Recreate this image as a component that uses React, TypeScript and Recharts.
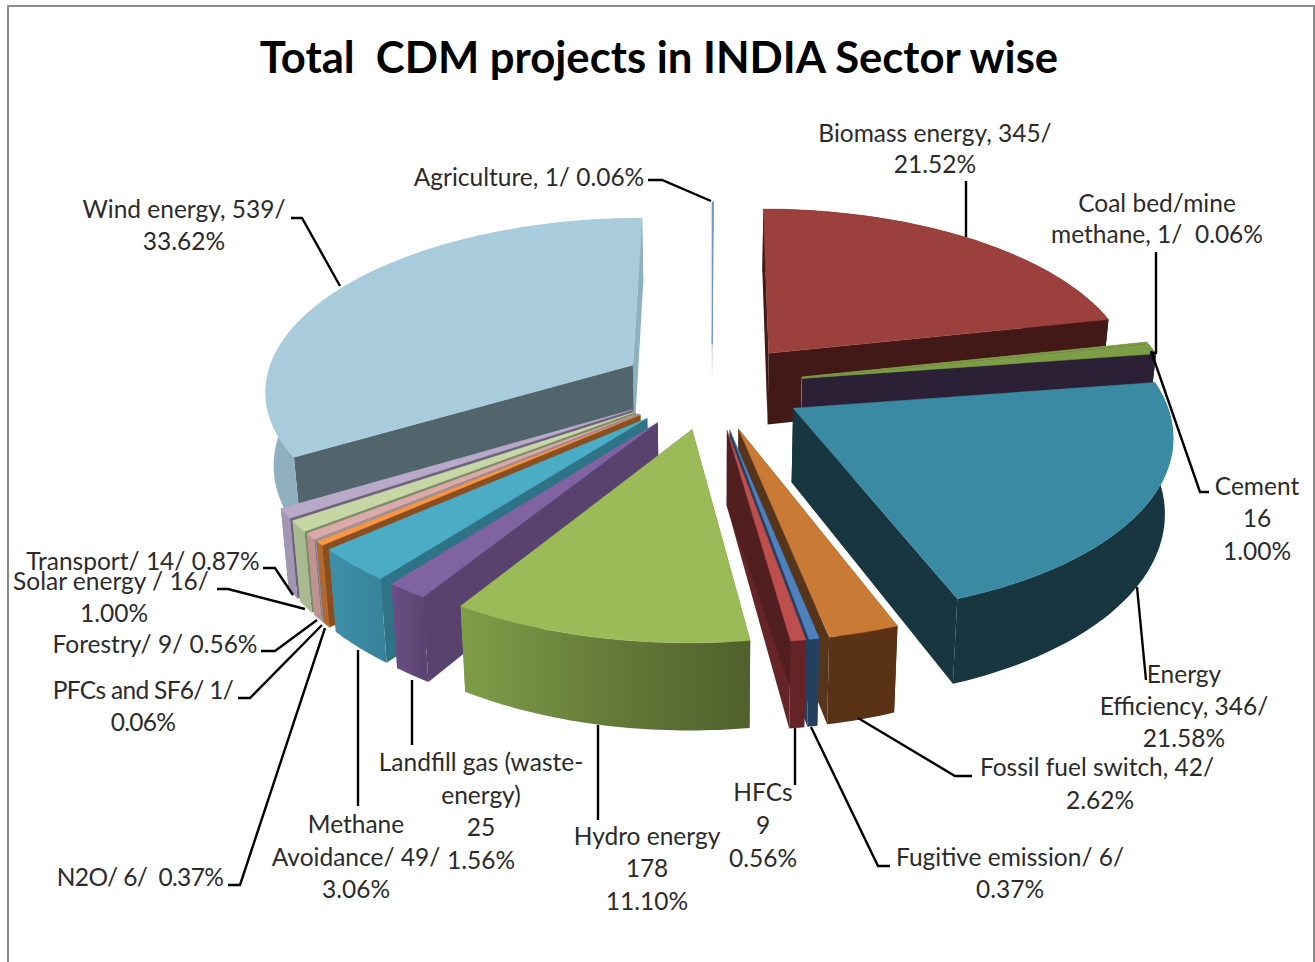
import { Pie, PieChart } from "recharts";

const CATEGORIES = [
  "Agriculture", "Biomass energy", "Coal bed/mine methane", "Cement", "Energy Efficiency",
  "Fossil fuel switch", "Fugitive emission", "HFCs", "Hydro energy", "Landfill gas",
  "Methane Avoidance", "N2O", "PFCs and SF6", "Forestry", "Solar energy", "Transport", "Wind energy",
];
const PROJECTS = [1, 345, 1, 16, 346, 42, 6, 9, 178, 25, 49, 6, 1, 9, 16, 14, 539];
const LABEL_TEXT = [
  ["Agriculture, 1/ 0.06%"],
  ["Biomass energy, 345/", "21.52%"],
  ["Coal bed/mine", "methane, 1/  0.06%"],
  ["Cement", "16", "1.00%"],
  ["Energy", "Efficiency, 346/", "21.58%"],
  ["Fossil fuel switch, 42/", "2.62%"],
  ["Fugitive emission/ 6/", "0.37%"],
  ["HFCs", "9", "0.56%"],
  ["Hydro energy", "178", "11.10%"],
  ["Landfill gas (waste-", "energy)", "25", "1.56%"],
  ["Methane", "Avoidance/ 49/", "3.06%"],
  ["N2O/ 6/  0.37%"],
  ["PFCs and SF6/ 1/", "0.06%"],
  ["Forestry/ 9/ 0.56%"],
  ["Solar energy / 16/", "1.00%"],
  ["Transport/ 14/ 0.87%"],
  ["Wind energy, 539/", "33.62%"],
];

const TOP_COLORS = [
  "#6f93c4", "#9b403d", "#7d9d46", "#7d9d46", "#3b8aa3", "#c97a35", "#4f81bd", "#bd4f4d", "#9bbb59",
  "#8064a2", "#4bacc6", "#f79646", "#9aa5b8", "#d9aaa9", "#c6d6a5", "#b8a9c9", "#a8ccdc",
];
const OUTER_COLORS = [
  "none", "#431917", "#7d9d46", "#2b2036", "#17363f", "#5a3317", "#24405f", "#652528", "url(#hydroWall)",
  "url(#landfillWall)", "url(#methaneWall)", "#b4692d", "#8a93a3", "#c09392", "#a9ba90", "#a297b3", "#8fb0bf",
];
const RADIAL_COLORS = [
  "none", "#431917", "#7d9d46", "#2b2036", "#17363f", "#57351a", "#24405f", "#521f21", "#4f602c",
  "#59436e", "#2f7386", "#8a4f20", "#6d7380", "#8d6d6c", "#7d8b69", "#6e637c", "#52646c",
];

// label placement: centre x / first baseline, leader polyline
const LABEL_LAYOUT: { x: number[]; y: number[]; leader: number[][]; spacing?: number }[] = [
  { x: [529], y: [186], leader: [[648, 180], [662, 180], [711, 201]] },
  { x: [935, 935], y: [142, 173], leader: [[966, 181], [966, 237]] },
  { x: [1157, 1157], y: [212, 243], leader: [[1156, 252], [1156, 353], [1150, 353]] },
  { x: [1257, 1257, 1257], y: [495, 527, 560], leader: [[1151, 351], [1200, 492], [1209, 492]] },
  { x: [1184, 1184, 1184], y: [683, 715, 747], leader: [[1137, 587], [1146, 680]] },
  { x: [1097, 1100], y: [776, 809], leader: [[858, 718], [955, 776], [972, 776]] },
  { x: [1010, 1010], y: [866, 898], leader: [[811, 727], [878, 866], [890, 866]] },
  { x: [763, 763, 763], y: [801, 834, 867], leader: [[795, 728], [795, 785]] },
  { x: [647, 647, 647], y: [845, 877, 910], leader: [[598, 725], [598, 820]] },
  { x: [481, 481, 481, 481], y: [771, 804, 836, 869], leader: [[412, 680], [412, 745]] },
  { x: [356, 356, 356], y: [833, 866, 898], leader: [[358, 650], [358, 806]] },
  { x: [140], y: [886], leader: [[325, 628], [240, 885], [228, 885]], spacing: -0.65 },
  { x: [143, 143], y: [699, 731], leader: [[322, 625], [250, 698], [238, 698]], spacing: -0.7 },
  { x: [155], y: [653], leader: [[317, 620], [275, 651], [261, 651]] },
  { x: [111, 114], y: [590, 622], leader: [[305, 609], [228, 589], [217, 589]] },
  { x: [143], y: [570], leader: [[293, 595], [275, 568], [263, 568]] },
  { x: [184, 184], y: [218, 250], leader: [[340, 286], [302, 218], [291, 218]] },
];

const pieRows = CATEGORIES.map((name, i) => ({ name, value: PROJECTS[i] }));

// 3D look: perspective ground plane, every slice pulled out along its middle angle
const SCALE_X = 1.1;
const SCALE_Y = 0.513;
const PERSPECTIVE = 0.0004;
const EXPLODE = 84;
const WALL_HEIGHT = 73;
const WALL_SHRINK = 0.982;
const RIGHT_SIDE_LIMIT = 170;

const toPath = (pts: number[][]) =>
  "M" + pts.map((p) => `${p[0].toFixed(1)},${p[1].toFixed(1)}`).join("L") + "Z";

function makeSlice(side: "right" | "left") {
  return function Slice(props: any) {
    const { cx, cy, outerRadius, startAngle, endAngle } = props;
    const i = CATEGORIES.indexOf(props.payload?.name ?? props.name);
    const t0 = Math.min(90 - startAngle, 90 - endAngle);
    const t1 = Math.max(90 - startAngle, 90 - endAngle);
    const mid = (t0 + t1) / 2;
    if ((mid < RIGHT_SIDE_LIMIT) !== (side === "right")) return null;

    const offU = EXPLODE * Math.sin((mid * Math.PI) / 180);
    const offV = EXPLODE * Math.cos((mid * Math.PI) / 180);
    const top = (u: number, v: number) => {
      const w = 1 + PERSPECTIVE * (v + offV);
      return [cx + (SCALE_X * (u + offU)) / w, cy - (SCALE_Y * (v + offV)) / w];
    };
    const bottom = (u: number, v: number) => {
      const w = 1 + PERSPECTIVE * (v + offV);
      const p = top(u, v);
      return [cx + (p[0] - cx) * WALL_SHRINK, p[1] + WALL_HEIGHT / w];
    };
    const rim: number[][] = [];
    const steps = Math.max(2, Math.ceil(t1 - t0));
    for (let s = 0; s <= steps; s++) {
      const a = ((t0 + ((t1 - t0) * s) / steps) * Math.PI) / 180;
      rim.push([outerRadius * Math.sin(a), outerRadius * Math.cos(a)]);
    }
    const topRim = rim.map((p) => top(p[0], p[1]));
    const lowRim = rim.map((p) => bottom(p[0], p[1]));
    const tipTop = top(0, 0);
    const tipLow = bottom(0, 0);
    const last = rim.length - 1;
    const isLeft = side === "left";
    return (
      <g>
        {i === 0 && (
          <line x1={tipTop[0]} y1={tipTop[1]} x2={tipLow[0]} y2={tipLow[1] + 0.01} stroke="url(#agricultureWall)" strokeWidth={1} />
        )}
        <path d={toPath([tipTop, topRim[last], lowRim[last], tipLow])} fill={isLeft ? OUTER_COLORS[i] : RADIAL_COLORS[i]} />
        <path d={toPath([tipTop, topRim[0], lowRim[0], tipLow])} fill={RADIAL_COLORS[i]} />
        <path d={toPath([...topRim, ...[...lowRim].reverse()])} fill={OUTER_COLORS[i]} />
        <path d={toPath([tipTop, ...topRim])} fill={TOP_COLORS[i]} stroke={TOP_COLORS[i]} strokeWidth={i === 0 ? 1 : 0.4} />
      </g>
    );
  };
}

const RightSlice = makeSlice("right");
const LeftSlice = makeSlice("left");

function renderLabel(props: any) {
  const i = CATEGORIES.indexOf(props.payload?.name ?? props.name);
  const layout = LABEL_LAYOUT[i];
  return (
    <g key={CATEGORIES[i]}>
      <polyline points={layout.leader.map((p) => p.join(",")).join(" ")} fill="none" stroke="#000" strokeWidth={2.4} />
      {LABEL_TEXT[i].map((line, n) => (
        <text
          key={n}
          x={layout.x[n]}
          y={layout.y[n]}
          textAnchor="middle"
          fontFamily="Lato, sans-serif"
          fontSize={24.5}
          letterSpacing={layout.spacing}
          fill="#2b2b2b"
          style={{ whiteSpace: "pre" }}
        >
          {line}
        </text>
      ))}
    </g>
  );
}

export default function App() {
  return (
    <div style={{ position: "absolute", left: 0, top: 0, width: 1315, height: 962, background: "#fff", overflow: "hidden" }}>
      <div
        style={{
          position: "absolute", left: 7, top: 5, width: 1308, height: 957, boxSizing: "border-box",
          borderLeft: "2px solid #8a8a8a", borderTop: "2px solid #8a8a8a", borderRight: "2px solid #8a8a8a",
        }}
      />
      <PieChart width={1315} height={962} margin={{ top: 0, right: 0, bottom: 0, left: 0 }} style={{ position: "absolute", left: 0, top: 0 }}>
        <defs>
          <linearGradient id="hydroWall" x1="0" y1="0" x2="1" y2="0">
            <stop offset="0" stopColor="#7f9e48" />
            <stop offset="0.5" stopColor="#667c39" />
            <stop offset="1" stopColor="#4f602c" />
          </linearGradient>
          <linearGradient id="landfillWall" x1="0" y1="0" x2="1" y2="0">
            <stop offset="0" stopColor="#6a4f85" />
            <stop offset="1" stopColor="#59436e" />
          </linearGradient>
          <linearGradient id="methaneWall" x1="0" y1="0" x2="1" y2="0">
            <stop offset="0" stopColor="#3e8fa9" />
            <stop offset="1" stopColor="#37829a" />
          </linearGradient>
          <linearGradient id="agricultureWall" gradientUnits="userSpaceOnUse" x1="0" y1="340" x2="0" y2="380">
            <stop offset="0" stopColor="#a3b9d8" />
            <stop offset="1" stopColor="#ffffff" />
          </linearGradient>
        </defs>
        <text x={659} y={73} textAnchor="middle" fontFamily="Lato, sans-serif" fontWeight={700} fontSize={43.65} fill="#000" style={{ whiteSpace: "pre" }}>
          Total  CDM projects in INDIA Sector wise
        </text>
        <Pie data={pieRows} dataKey="value" nameKey="name" cx={712} cy={386} outerRadius={335} startAngle={90} endAngle={-270} shape={RightSlice} isAnimationActive={false} />
        <Pie data={[...pieRows].reverse()} dataKey="value" nameKey="name" cx={712} cy={386} outerRadius={335} startAngle={-270} endAngle={90} shape={LeftSlice} isAnimationActive={false} />
        <Pie data={pieRows} dataKey="value" nameKey="name" cx={712} cy={386} outerRadius={335} startAngle={90} endAngle={-270} shape={() => null} label={renderLabel} labelLine={false} isAnimationActive={false} />
      </PieChart>
    </div>
  );
}
